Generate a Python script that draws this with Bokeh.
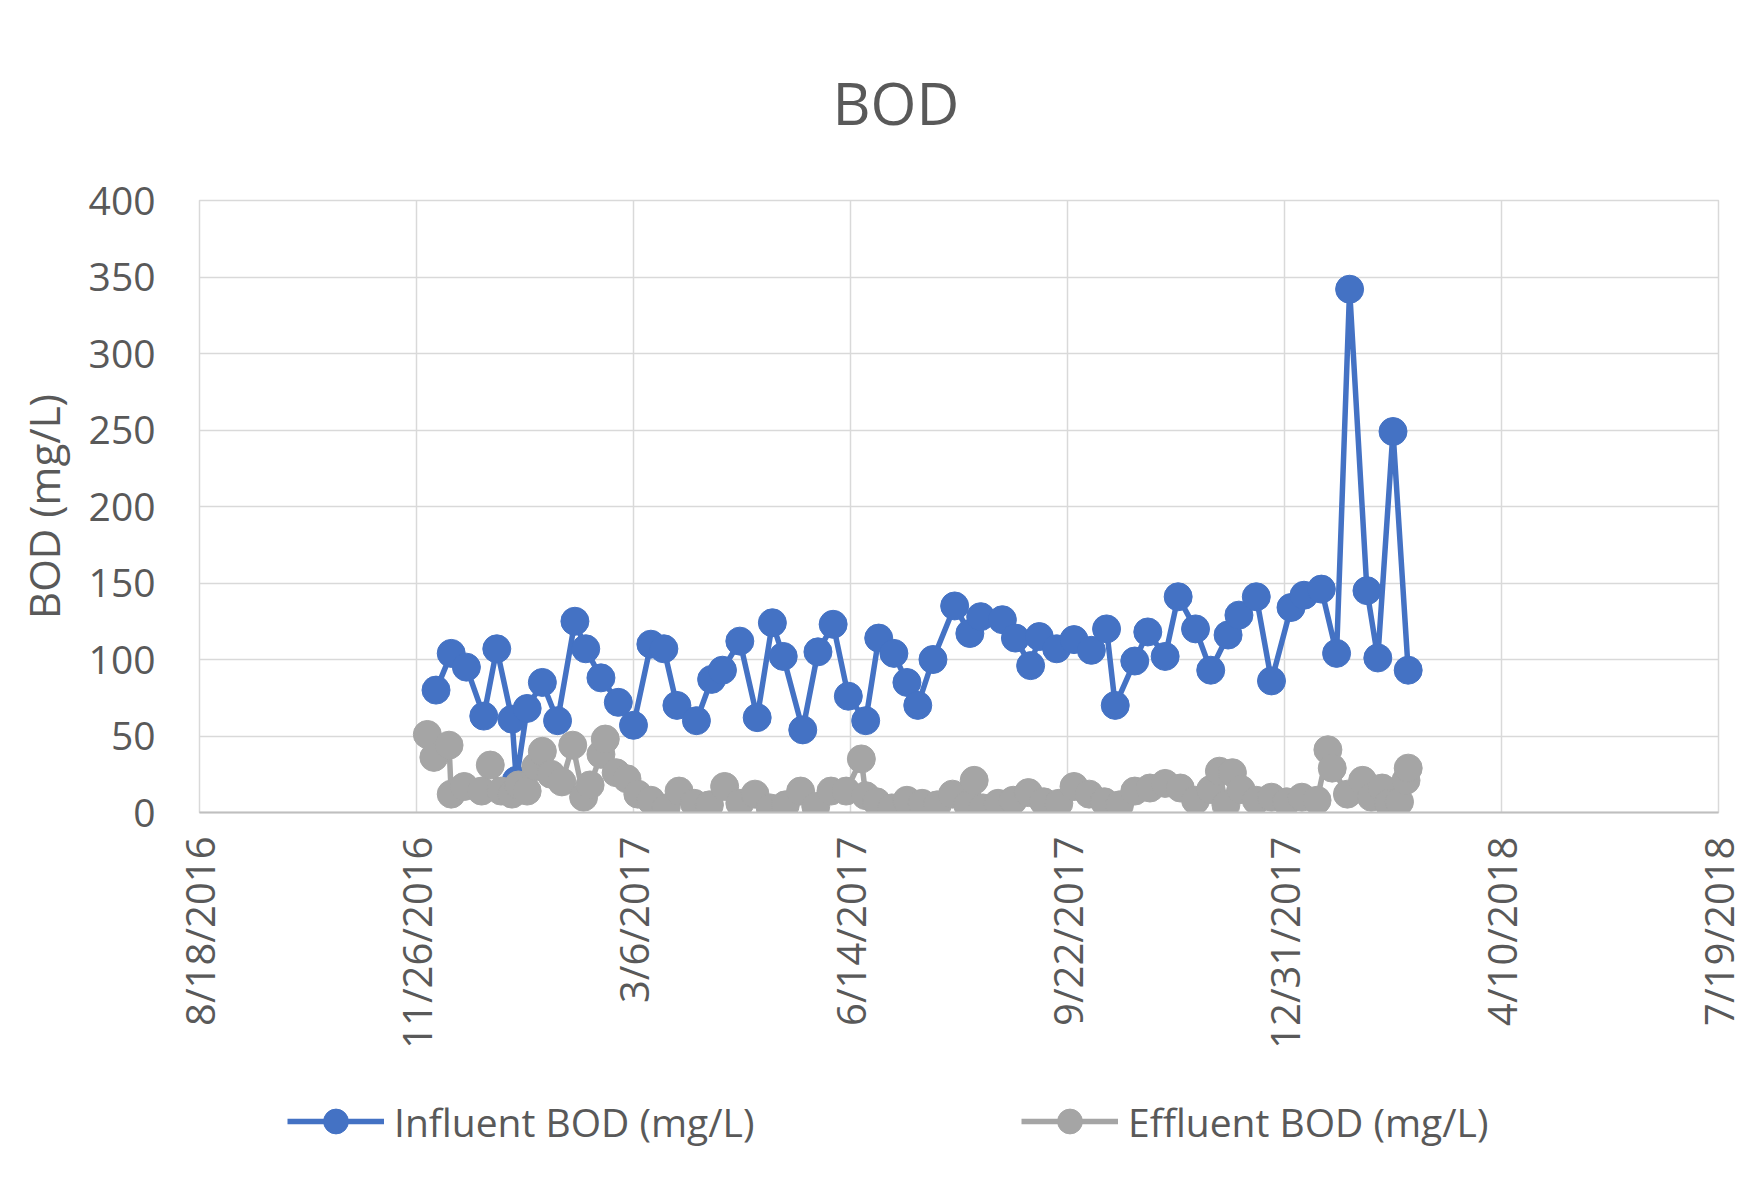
import pandas as pd
from bokeh.plotting import figure
from bokeh.layouts import column
from bokeh.models import (Range1d, FixedTicker, SingleIntervalTicker, CustomJSTickFormatter,
                          Legend, LegendItem)
from bokeh.embed import file_html
from bokeh.resources import INLINE

# ---------------- data ----------------
TICK_DATES = ["2016-08-18", "2016-11-26", "2017-03-06", "2017-06-14",
              "2017-09-22", "2017-12-31", "2018-04-10", "2018-07-19"]

INF_DATES = ["2016-12-05", "2016-12-12", "2016-12-19", "2016-12-27", "2017-01-02",
             "2017-01-09", "2017-01-11", "2017-01-16", "2017-01-23", "2017-01-30",
             "2017-02-07", "2017-02-12", "2017-02-19", "2017-02-27", "2017-03-06",
             "2017-03-14", "2017-03-20", "2017-03-26", "2017-04-04", "2017-04-11",
             "2017-04-16", "2017-04-24", "2017-05-02", "2017-05-09", "2017-05-14",
             "2017-05-23", "2017-05-30", "2017-06-06", "2017-06-13", "2017-06-21",
             "2017-06-27", "2017-07-04", "2017-07-10", "2017-07-15", "2017-07-22",
             "2017-08-01", "2017-08-08", "2017-08-13", "2017-08-23", "2017-08-29",
             "2017-09-05", "2017-09-09", "2017-09-17", "2017-09-25", "2017-10-03",
             "2017-10-10", "2017-10-14", "2017-10-23", "2017-10-29", "2017-11-06",
             "2017-11-12", "2017-11-20", "2017-11-27", "2017-12-05", "2017-12-10",
             "2017-12-18", "2017-12-25", "2018-01-03", "2018-01-09", "2018-01-17",
             "2018-01-24", "2018-01-30", "2018-02-07", "2018-02-12", "2018-02-19",
             "2018-02-26"]
INF_BOD = [80, 104, 95, 63, 107, 61, 21, 68, 85, 60,
           125, 107, 88, 72, 57, 110, 107, 70, 60, 87,
           93, 112, 62, 124, 102, 54, 105, 123, 76, 60,
           114, 104, 85, 70, 100, 135, 117, 128, 126, 114,
           96, 115, 107, 113, 106, 120, 70, 99, 118, 102,
           141, 120, 93, 116, 129, 141, 86, 134, 142, 146,
           104, 342, 145, 101, 249, 93]

EFF_DATES = ["2016-12-01", "2016-12-04", "2016-12-11", "2016-12-12", "2016-12-18",
             "2016-12-26", "2016-12-30", "2017-01-04", "2017-01-09", "2017-01-12",
             "2017-01-16", "2017-01-20", "2017-01-23", "2017-01-27", "2017-02-01",
             "2017-02-06", "2017-02-11", "2017-02-14", "2017-02-19", "2017-02-21",
             "2017-02-26", "2017-03-03", "2017-03-08", "2017-03-14", "2017-03-21",
             "2017-03-27", "2017-04-03", "2017-04-10", "2017-04-17", "2017-04-24",
             "2017-05-01", "2017-05-08", "2017-05-15", "2017-05-22", "2017-05-29",
             "2017-06-05", "2017-06-12", "2017-06-19", "2017-06-21", "2017-06-26",
             "2017-07-03", "2017-07-10", "2017-07-17", "2017-07-24", "2017-07-31",
             "2017-08-07", "2017-08-10", "2017-08-14", "2017-08-21", "2017-08-28",
             "2017-09-04", "2017-09-11", "2017-09-18", "2017-09-25", "2017-10-02",
             "2017-10-09", "2017-10-16", "2017-10-23", "2017-10-30", "2017-11-06",
             "2017-11-13", "2017-11-20", "2017-11-27", "2017-12-01", "2017-12-04",
             "2017-12-07", "2017-12-11", "2017-12-18", "2017-12-25", "2018-01-01",
             "2018-01-08", "2018-01-15", "2018-01-20", "2018-01-22", "2018-01-29",
             "2018-02-05", "2018-02-09", "2018-02-14", "2018-02-17", "2018-02-22",
             "2018-02-25", "2018-02-26"]
EFF_BOD = [51, 36, 44, 12, 17, 14, 31, 14, 12, 18,
           14, 30, 40, 25, 20, 44, 10, 18, 38, 48,
           26, 22, 12, 8, 3, 14, 6, 5, 17, 6,
           12, 3, 5, 14, 4, 14, 14, 35, 11, 7,
           3, 8, 6, 5, 12, 5, 21, 3, 6, 8,
           13, 7, 6, 17, 12, 7, 5, 14, 16, 19,
           16, 8, 15, 27, 5, 26, 15, 8, 10, 7,
           10, 8, 41, 29, 12, 21, 10, 16, 6, 7,
           21, 29]

SERIES_NAMES = ["Influent BOD (mg/L)", "Effluent BOD (mg/L)"]

# ---------------- styling ----------------
BLUE = "#4472C4"
GRAY = "#A5A5A5"
TXT = "#595959"
GRID = "#D9D9D9"
FONT = "Open Sans"

inf_x = pd.to_datetime(INF_DATES)
eff_x = pd.to_datetime(EFF_DATES)
ticks = pd.to_datetime(TICK_DATES)
tick_ms = [t.value / 1e6 for t in ticks]

# ---------------- main chart ----------------
p = figure(frame_width=1519, frame_height=612, x_axis_type="datetime",
           output_backend="svg", toolbar_location=None,
           x_range=Range1d(tick_ms[0], tick_ms[-1]), y_range=Range1d(0, 400),
           min_border_left=199, min_border_right=34, min_border_top=192,
           min_border_bottom=260)

p.title.text = "BOD"
p.title.align = "left"
p.title.offset = 633
p.title.text_font = FONT
p.title.text_font_size = "59px"
p.title.text_font_style = "normal"
p.title.text_color = TXT
p.title.standoff = 118

p.background_fill_color = "white"
p.border_fill_color = "white"
p.outline_line_color = GRID
p.outline_line_width = 1.5

p.xaxis.ticker = FixedTicker(ticks=tick_ms)
p.xaxis.formatter = CustomJSTickFormatter(code="""
const d = new Date(tick);
return (d.getUTCMonth()+1) + '/' + d.getUTCDate() + '/' + d.getUTCFullYear();
""")
p.xaxis.major_label_orientation = 1.5708
p.xaxis.major_label_text_font = FONT
p.xaxis.major_label_text_font_size = "40px"
p.xaxis.major_label_text_color = TXT
p.xaxis.major_label_standoff = 18
p.xaxis.axis_line_color = "#BFBFBF"
p.xaxis.axis_line_width = 2
p.xaxis.major_tick_line_color = None
p.xaxis.minor_tick_line_color = None

p.yaxis.ticker = SingleIntervalTicker(interval=50)
p.yaxis.major_label_text_font = FONT
p.yaxis.major_label_text_font_size = "39px"
p.yaxis.major_label_text_color = TXT
p.yaxis.major_label_standoff = 38
p.yaxis.axis_line_color = None
p.yaxis.major_tick_line_color = None
p.yaxis.minor_tick_line_color = None
p.yaxis.axis_label = "BOD (mg/L)"
p.yaxis.axis_label_text_font = FONT
p.yaxis.axis_label_text_font_size = "42px"
p.yaxis.axis_label_text_font_style = "normal"
p.yaxis.axis_label_text_color = TXT
p.yaxis.axis_label_standoff = 14

p.xgrid.ticker = FixedTicker(ticks=tick_ms)
p.xgrid.grid_line_color = GRID
p.xgrid.grid_line_width = 1.5
p.ygrid.grid_line_color = GRID
p.ygrid.grid_line_width = 1.5

# Excel order: effluent drawn over influent
p.line(inf_x, INF_BOD, line_color=BLUE, line_width=5.5)
p.scatter(inf_x, INF_BOD, size=28, fill_color=BLUE, line_color=BLUE)
p.line(eff_x, EFF_BOD, line_color=GRAY, line_width=5.5)
p.scatter(eff_x, EFF_BOD, size=28, fill_color=GRAY, line_color=GRAY)

# ---------------- legend strip ----------------
q = figure(width=1752, height=114, output_backend="svg", toolbar_location=None,
           x_axis_type="datetime",
           x_range=Range1d(tick_ms[0], tick_ms[-1]), y_range=Range1d(1000, 1100),
           min_border_left=0, min_border_right=0, min_border_top=0,
           min_border_bottom=0, x_axis_location=None, y_axis_location=None)
q.grid.visible = False
q.outline_line_color = None
q.background_fill_color = "white"
q.border_fill_color = "white"

# same series, outside the visible range: they only feed the legend glyphs
ql1 = q.line(inf_x, INF_BOD, line_color=BLUE, line_width=5.5)
qs1 = q.scatter(inf_x, INF_BOD, size=28, fill_color=BLUE, line_color=BLUE)
ql2 = q.line(eff_x, EFF_BOD, line_color=GRAY, line_width=5.5)
qs2 = q.scatter(eff_x, EFF_BOD, size=28, fill_color=GRAY, line_color=GRAY)

legend = Legend(items=[LegendItem(label=SERIES_NAMES[0], renderers=[ql1, qs1]),
                       LegendItem(label=SERIES_NAMES[1], renderers=[ql2, qs2])],
                orientation="horizontal", location=(88, 34),
                glyph_width=97, glyph_height=62, label_standoff=10,
                label_width=597, spacing=30, padding=0, margin=0,
                label_text_font=FONT, label_text_font_size="39px",
                label_text_color=TXT, border_line_color=None,
                background_fill_alpha=0)
q.add_layout(legend, "center")

layout = column(p, q, spacing=0)
open("out.html", "w").write(file_html(layout, INLINE))
